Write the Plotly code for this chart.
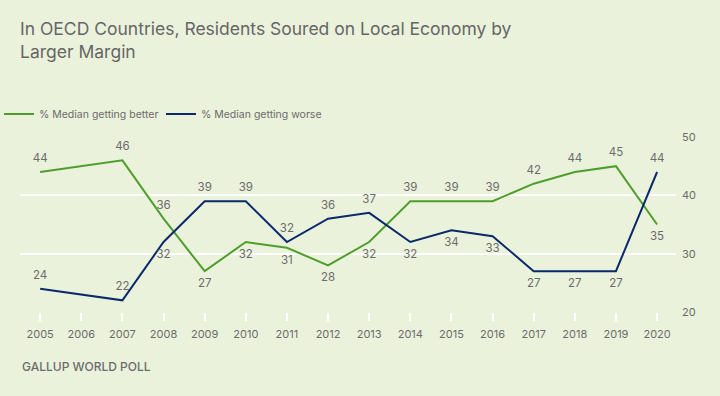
import plotly.graph_objects as go

years = list(range(2005, 2021))
better = [44, None, 46, 36, 27, 32, 31, 28, 32, 39, 39, 39, 42, 44, 45, 35]
worse = [24, None, 22, 32, 39, 39, 32, 36, 37, 32, 34, 33, 27, 27, 27, 44]
better_pos = ["top center", "top center", "top center", "top center", "bottom center", "bottom center",
              "bottom center", "bottom center", "bottom center", "top center", "top center", "top center",
              "top center", "top center", "top center", "bottom center"]
worse_pos = ["top center", "top center", "top center", "bottom center", "top center", "top center",
             "top center", "top center", "top center", "bottom center", "bottom center", "bottom center",
             "bottom center", "bottom center", "bottom center", "top center"]
y_ticks = [20, 30, 40, 50]

GREEN = "#4E9E2B"
NAVY = "#0A2A6B"
BG = "#EBF2DC"
TXT = "#6B6B6B"
FONT = "Inter, Roboto, sans-serif"

T, B, L, R = 137, 84, 20, 44
PH = 396 - T - B
PW = 720 - L - R

def txt(vals):
    return ["" if v is None else str(v) for v in vals]

fig = go.Figure()
for vals, pos, color, name in [(better, better_pos, GREEN, "% Median getting better"),
                               (worse, worse_pos, NAVY, "% Median getting worse")]:
    fig.add_trace(go.Scatter(x=years, y=vals, mode="lines+markers+text", name=name,
                             line=dict(color=color, width=2), connectgaps=True,
                             marker=dict(size=10, opacity=0, color=color),
                             text=txt(vals), textposition=pos, hoverinfo="skip",
                             showlegend=False, legendgroup=name,
                             textfont=dict(color=TXT, size=11.5, family=FONT), cliponaxis=False))
for color, name, lg in [(GREEN, "% Median getting better", "legend"),
                        (NAVY, "% Median getting worse", "legend2")]:
    fig.add_trace(go.Scatter(x=[None], y=[None], mode="lines", name=name, legendgroup=name,
                             line=dict(color=color, width=2), showlegend=True, legend=lg))

leg_common = dict(orientation="h", xanchor="left", y=(396 - B - 114) / PH, yanchor="middle",
                  itemwidth=30, font=dict(size=10.5, color=TXT), bgcolor="rgba(0,0,0,0)")

fig.update_layout(
    width=720, height=396,
    paper_bgcolor=BG, plot_bgcolor=BG,
    margin=dict(l=L, r=R, t=T, b=B, autoexpand=False),
    font=dict(family=FONT, color=TXT, size=11),
    title=dict(text="In OECD Countries, Residents Soured on Local Economy by<br>Larger Margin",
               x=20 / 720, xanchor="left", y=1 - 35 / 396, yanchor="top",
               pad=dict(l=0, t=0, b=0, r=0),
               font=dict(size=17.5, color="#666666", family=FONT)),
    showlegend=True,
    legend=dict(x=-21 / PW, **leg_common),
    legend2=dict(x=141 / PW, **leg_common),
    xaxis=dict(range=[2004.51, 2020.46], tickmode="array", tickvals=years,
               ticktext=[str(y) for y in years], showgrid=False, zeroline=False,
               ticks="outside", ticklen=8, tickcolor="white", tickwidth=2, ticklabelstandoff=4,
               tickfont=dict(size=11, color=TXT), showline=False, automargin=False),
    yaxis=dict(range=[20, 50], side="right", tickvals=y_ticks, showgrid=True,
               gridcolor="white", gridwidth=2, zeroline=False, automargin=False,
               tickfont=dict(size=11, color=TXT), ticks="", ticklabelstandoff=5),
    annotations=[dict(text="GALLUP WORLD POLL", x=0, xref="paper", xanchor="left",
                      y=(396 - B - 366) / PH, yref="paper", yanchor="middle", showarrow=False,
                      font=dict(size=12, color=TXT, family=FONT, weight=500))],
)
fig.write_html("out.html", config={"displayModeBar": False},
               post_script="document.body.style.margin='0';document.body.style.overflow='hidden';")
